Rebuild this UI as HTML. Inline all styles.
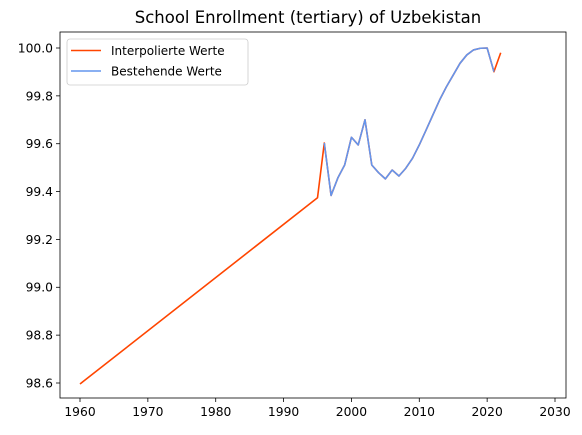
<!DOCTYPE html>
<html><head><meta charset="utf-8"><style>
html,body{margin:0;padding:0;background:#fff;}
svg{display:block;font-family:"DejaVu Sans","Liberation Sans",sans-serif;}
</style></head><body>
<svg id="chart" width="582" height="435"></svg>
<script>
const interpYears=[1960,1995,1996,1997,1998,1999,2000,2001,2002,2003,2004,2005,2006,2007,2008,2009,2010,2011,2012,2013,2014,2015,2016,2017,2018,2019,2020,2021,2022];
const interpValues=[98.596,99.374,99.603,99.384,99.457,99.511,99.627,99.595,99.70,99.511,99.479,99.453,99.49,99.465,99.497,99.539,99.595,99.657,99.72,99.783,99.838,99.887,99.936,99.971,99.992,99.999,100.0,99.901,99.98];
const existYears=[1996,1997,1998,1999,2000,2001,2002,2003,2004,2005,2006,2007,2008,2009,2010,2011,2012,2013,2014,2015,2016,2017,2018,2019,2020,2021];
const existValues=[99.603,99.384,99.457,99.511,99.627,99.595,99.70,99.511,99.479,99.453,99.49,99.465,99.497,99.539,99.595,99.657,99.72,99.783,99.838,99.887,99.936,99.971,99.992,99.999,100.0,99.901];
const xTicks=[1960,1970,1980,1990,2000,2010,2020,2030];
const yTicks=[98.6,98.8,99.0,99.2,99.4,99.6,99.8,100.0];
const NS="http://www.w3.org/2000/svg";
const svg=document.getElementById('chart');
const L=60,R=566,T=32,B=398;
const xs=y=>80+(y-1960)*(475/70);
const ys=v=>48+(100-v)*(335/1.4);
function mk(t,a,p){const e=document.createElementNS(NS,t);for(const k in a)e.setAttribute(k,a[k]);(p||svg).appendChild(e);return e;}
const title=mk('text',{x:308,y:23,'text-anchor':'middle','font-size':16.5,fill:'#000'});
title.textContent='School Enrollment (tertiary) of Uzbekistan';


xTicks.forEach(t=>{const x=xs(t);
 const l=mk('line',{x1:x,x2:x,y1:B,y2:B+4,stroke:'#000','stroke-width':0.8});
 
 
 const tx=mk('text',{x:x,y:B+18,'text-anchor':'middle','font-size':12.3,fill:'#000'});tx.textContent=t;
 
 });
yTicks.forEach(t=>{const y=ys(t);
 const l=mk('line',{x1:L-4,x2:L,y1:y,y2:y,stroke:'#000','stroke-width':0.8});
 
 
 const tx=mk('text',{x:L-7,y:y+4.4,'text-anchor':'end','font-size':12.3,fill:'#000'});tx.textContent=t.toFixed(1);
 
 });
const pts=(xa,va)=>xa.map((y,i)=>xs(y)+','+ys(va[i])).join(' ');
const s1=mk('polyline',{points:pts(interpYears,interpValues),fill:'none',stroke:'#ff4500','stroke-width':1.6,'stroke-linejoin':'round'});


const s2=mk('polyline',{points:pts(existYears,existValues),fill:'none',stroke:'#6495ed','stroke-width':1.6,'stroke-linejoin':'round'});


const frame=mk('rect',{x:L,y:T,width:R-L,height:B-T,fill:'none',stroke:'#000','stroke-width':0.8});


const lg=mk('g',{});


mk('rect',{x:67,y:39,width:181,height:46,rx:3,fill:'#fff',stroke:'#ccc','stroke-width':0.8},lg);
[['Interpolierte Werte','#ff4500',50.5],['Bestehende Werte','#6495ed',71]].forEach(([n,c,y])=>{
 const e=mk('g',{},lg);
 
 
 mk('line',{x1:71,x2:101,y1:y,y2:y,stroke:c,'stroke-width':1.6},e);
 const t=mk('text',{x:111,y:y+4.4,'font-size':12,fill:'#000'},e);t.textContent=n;});
</script>
</body></html>
